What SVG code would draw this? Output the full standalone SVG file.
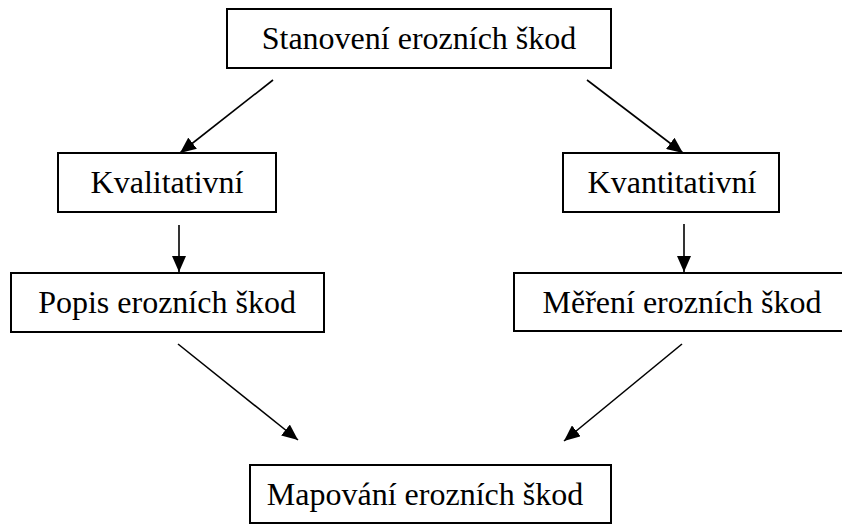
<svg xmlns="http://www.w3.org/2000/svg" width="842" height="525" viewBox="0 0 842 525">
<style>
.box{fill:#fff;stroke:#000;stroke-width:2}
.lbl{font-family:'Liberation Serif','DejaVu Serif',serif;font-size:32px;fill:#000;text-anchor:middle}
.conn line{stroke:#000;stroke-width:1.6;marker-end:url(#ah)}
</style>
<defs>
<marker id="ah" markerUnits="userSpaceOnUse" markerWidth="17" markerHeight="14" refX="16" refY="7" orient="auto" viewBox="0 0 17 14">
<path d="M0,0 L16,7 L0,14 z" fill="#000"/>
</marker>
</defs>
<rect width="842" height="525" fill="#fff"/>
<g id="n-stanoveni">
<rect class="box" x="227" y="9" width="384" height="59"/>
<text class="lbl" x="419" y="49" font-family="Liberation Serif, serif">Stanovení erozních škod</text>
</g>
<g id="n-kvalitativni">
<rect class="box" x="58" y="153" width="218" height="59"/>
<text class="lbl" x="167" y="193">Kvalitativní</text>
</g>
<g id="n-kvantitativni">
<rect class="box" x="563" y="153" width="216" height="59"/>
<text class="lbl" x="672" y="193">Kvantitativní</text>
</g>
<g id="n-popis">
<rect class="box" x="11" y="273" width="313" height="59"/>
<text class="lbl" x="167" y="313">Popis erozních škod</text>
</g>
<g id="n-mereni">
<rect class="box" x="514" y="273" width="340" height="58"/>
<text class="lbl" x="682" y="313">Měření erozních škod</text>
</g>
<g id="n-mapovani">
<rect class="box" x="250" y="465" width="361" height="58"/>
<text class="lbl" x="425" y="505">Mapování erozních škod</text>
</g>
<g id="connectors" class="conn">
<line x1="273" y1="80" x2="180" y2="153"/>
<line x1="587" y1="80" x2="683" y2="153"/>
<line x1="179" y1="225" x2="179" y2="272"/>
<line x1="684" y1="224" x2="684" y2="272"/>
<line x1="178" y1="344" x2="298" y2="440"/>
<line x1="682" y1="344" x2="564" y2="441"/>
</g>
</svg>
